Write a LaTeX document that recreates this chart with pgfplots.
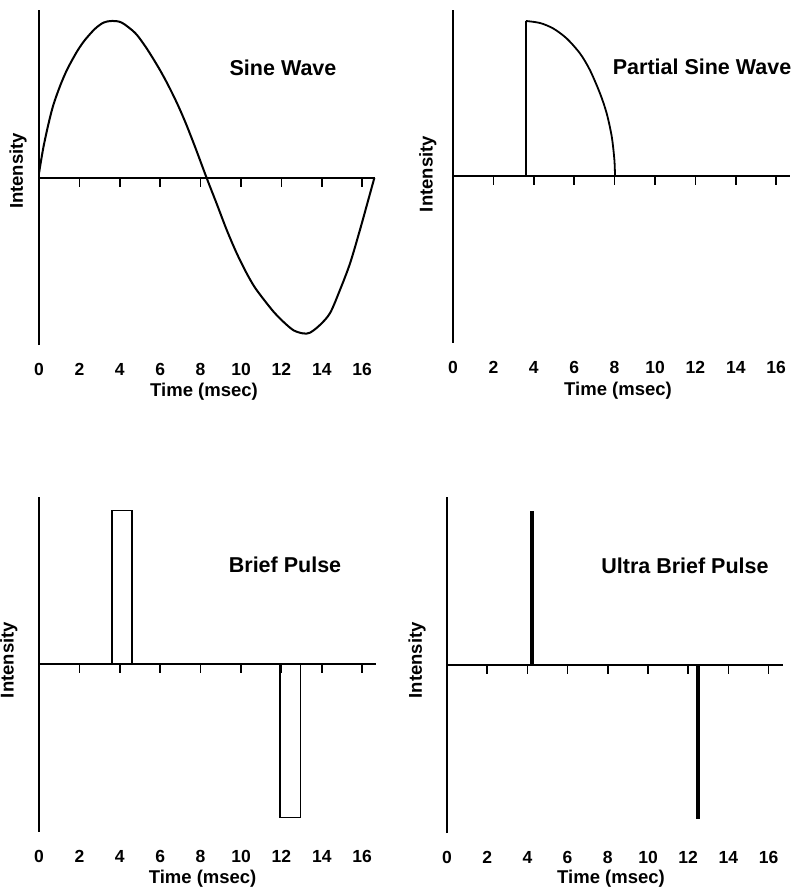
\documentclass[border=0pt]{standalone}
\usepackage{fontspec}
\setmainfont{Liberation Sans}
\usepackage{pgfplots}
\pgfplotsset{compat=1.18}
\tikzset{ttl/.style={font=\bfseries\fontsize{21.5}{24}\selectfont, inner sep=0pt}}
\pgfplotsset{
  pan/.style={
    axis x line=bottom, axis y line=left,
    x axis line style={draw=none},
    y axis line style={-, line width=1.6pt},
    xmin=0, ytick=\empty,
    xtick={0,2,...,16},
    major tick length=0pt,
    xtick style={draw=none},
    /pgf/number format/assume math mode=true,
    xticklabel style={font=\bfseries\fontsize{17.5}{19}\selectfont, anchor=base, inner sep=0pt, yshift=-30.3pt},
    label style={font=\bfseries\fontsize{18.5}{21}\selectfont},
    xlabel={Time (msec)}, ylabel={Intensity},
    xlabel style={anchor=center, inner sep=0pt},
    ylabel style={anchor=center, inner sep=0pt},
    clip=false,
    anchor=origin,
  },
}
\begin{document}
\begin{tikzpicture}
\path[use as bounding box] (0,0) rectangle (793pt,891pt);
% Panel 1: Sine Wave
\begin{axis}[pan, at={(39pt,713pt)}, x=20.2pt, y=157pt, xmax=16.63, ymin=-1.064, ymax=1.07,
  xlabel style={at={(axis cs:8.17,-1.363)}}, ylabel style={at={(axis cs:-1.04,0.045)}}]
\addplot[black, line width=1.6pt] coordinates {(0,0) (16.63,0)};
\pgfplotsinvokeforeach{2,4,6,8,10,12,14,16}{\draw[line width=1.6pt] (axis cs:#1,0) -- ++(0pt,-9pt);}
\addplot[black, line width=2pt, smooth] coordinates {
(0,0.03) (0.21,0.19) (0.46,0.34) (0.71,0.465) (1.04,0.585) (1.37,0.685) (1.7,0.765) (1.95,0.82)
(2.28,0.88) (2.77,0.95) (3.2,0.99) (3.6,1.0) (4.09,0.99) (4.75,0.925) (5.2,0.85) (5.58,0.775)
(6.0,0.685) (6.4,0.59) (6.82,0.48) (7.23,0.36) (7.72,0.2) (8.3,0) (8.8,-0.165) (9.29,-0.33)
(9.79,-0.48) (10.28,-0.607) (10.65,-0.69) (11.02,-0.756) (11.6,-0.85) (12.09,-0.915)
(12.6,-0.97) (13.08,-0.99) (13.42,-0.985) (13.91,-0.936) (14.41,-0.86) (14.9,-0.713)
(15.4,-0.543) (15.89,-0.33) (16.3,-0.14) (16.6,0)};
\node[ttl] at (axis cs:12.08,0.70) {Sine Wave};
\end{axis}
% Panel 2: Partial Sine Wave
\begin{axis}[pan, at={(453pt,715pt)}, x=20.2pt, y=155pt, xmax=16.68, ymin=-1.077, ymax=1.071,
  xlabel style={at={(axis cs:8.17,-1.387)}}, ylabel style={at={(axis cs:-1.24,0.013)}}]
\addplot[black, line width=1.6pt] coordinates {(0,0) (16.68,0)};
\pgfplotsinvokeforeach{2,4,6,8,10,12,14,16}{\draw[line width=1.6pt] (axis cs:#1,0) -- ++(0pt,-9pt);}
\addplot[black, line width=1.8pt] coordinates {(3.61,0) (3.61,1)};
\addplot[black, line width=1.8pt, smooth] coordinates {
(3.61,1) (4.31,0.987) (4.97,0.951) (5.63,0.887) (6.29,0.79) (6.78,0.683) (7.28,0.532)
(7.61,0.403) (7.86,0.253) (7.99,0.103) (8.02,0)};
\node[ttl] at (axis cs:12.33,0.703) {Partial Sine Wave};
\end{axis}
% Panel 3: Brief Pulse
\begin{axis}[pan, at={(39pt,227pt)}, x=20.2pt, y=153.5pt, xmax=16.68, ymin=-1.094, ymax=1.088,
  xlabel style={at={(axis cs:8.1,-1.40)}}, ylabel style={at={(axis cs:-1.49,0.026)}}]
\addplot[black, line width=1.6pt] coordinates {(0,0) (16.68,0)};
\pgfplotsinvokeforeach{2,4,6,8,10,12,14,16}{\draw[line width=1.6pt] (axis cs:#1,0) -- ++(0pt,-9pt);}
\addplot[black, line width=1.8pt] coordinates {(3.6,0) (3.6,1) (4.62,1) (4.62,0)};
\addplot[black, line width=1.8pt] coordinates {(11.93,0) (11.93,-1) (12.95,-1) (12.95,0)};
\node[ttl] at (axis cs:12.18,0.645) {Brief Pulse};
\end{axis}
% Panel 4: Ultra Brief Pulse
\begin{axis}[pan, at={(447pt,226pt)}, x=20.1pt, y=154pt, xmax=16.7, ymin=-1.091, ymax=1.091,
  xlabel style={at={(axis cs:8.16,-1.39)}}, ylabel style={at={(axis cs:-1.49,0.03)}}]
\addplot[black, line width=1.6pt] coordinates {(0,0) (16.7,0)};
\pgfplotsinvokeforeach{2,4,6,8,10,12,14,16}{\draw[line width=1.6pt] (axis cs:#1,0) -- ++(0pt,-9pt);}
\addplot[black, line width=3.5pt] coordinates {(4.23,0) (4.23,1)};
\addplot[black, line width=3.5pt] coordinates {(12.49,0) (12.49,-1)};
\node[ttl] at (axis cs:11.84,0.643) {Ultra Brief Pulse};
\end{axis}
\end{tikzpicture}
\end{document}
